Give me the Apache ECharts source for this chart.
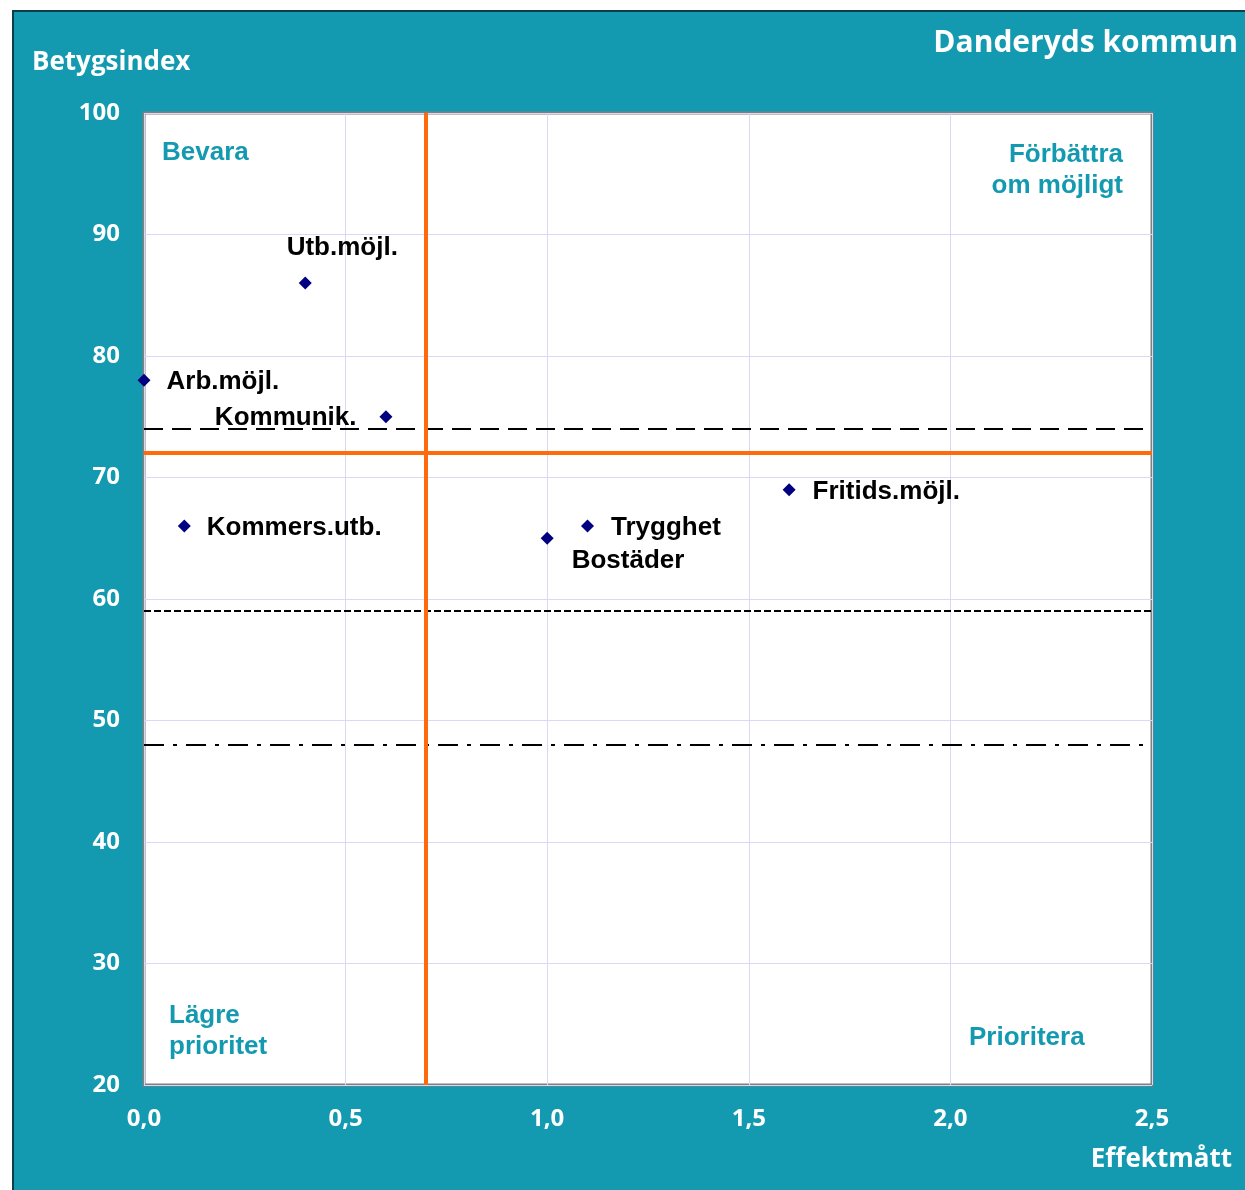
<!DOCTYPE html>
<html><head><meta charset="utf-8">
<script src="https://cdn.jsdelivr.net/npm/echarts@6/dist/echarts.min.js"></script>
<style>
html,body{margin:0;padding:0;background:#fff;}
#bg{position:absolute;left:12px;top:10px;width:1240px;height:1185px;background:#149AB0;border-top:2px solid #0d3f4a;border-left:2px solid #0d3f4a;}
#chart{position:absolute;left:0;top:0;width:1245px;height:1190px;}
</style></head>
<body>
<div id="bg"></div>
<div id="chart"></div>
<script>
// ---- data ----
const pointNames = ['Utb.möjl.', 'Arb.möjl.', 'Kommunik.', 'Kommers.utb.', 'Trygghet', 'Bostäder', 'Fritids.möjl.'];
const effektValues = [0.4, 0.0, 0.6, 0.1, 1.1, 1.0, 1.6];
const betygValues = [86, 78, 75, 66, 66, 65, 69];
const xTickValues = [0, 0.5, 1.0, 1.5, 2.0, 2.5];
const xTickLabels = ['0,0', '0,5', '1,0', '1,5', '2,0', '2,5'];
const yTickLabels = ['20', '30', '40', '50', '60', '70', '80', '90', '100'];
const effektDivider = 0.7;
const betygDivider = 72;
const refLongDash = 74;
const refShortDash = 59;
const refDashDot = 48;

// ---- label placement (style only) ----
const labelPlacement = {
  'Utb.möjl.': {position: 'top', offset: [37, -11]},
  'Arb.möjl.': {position: 'right', offset: [11, 2]},
  'Kommunik.': {position: 'left', offset: [-18, 1]},
  'Kommers.utb.': {position: 'right', offset: [11, 2]},
  'Trygghet': {position: 'right', offset: [12, 2]},
  'Bostäder': {position: 'right', offset: [13, 23]},
  'Fritids.möjl.': {position: 'right', offset: [12, 2]}
};

const labelFont = {color: '#000', opacity: 1, fontFamily: 'Liberation Sans, Arial, sans-serif', fontWeight: 'bold', fontSize: 26};
const quadFont = {fill: '#149AB0', fontFamily: 'Liberation Sans, Arial, sans-serif', fontWeight: 'bold', fontSize: 26};
const tickFont = {color: '#fff', fontFamily: 'Open Sans, Lato, sans-serif', fontWeight: 'bold', fontSize: 24};

const points = pointNames.map((n, i) => ({
  name: n,
  value: [effektValues[i], betygValues[i]],
  label: Object.assign({show: true, formatter: '{b}'}, labelPlacement[n], labelFont)
}));

const chart = echarts.init(document.getElementById('chart'), null, {renderer: 'canvas'});
chart.setOption({
  backgroundColor: 'transparent',
  animation: false,
  grid: {left: 144, right: 93, top: 113, bottom: 105, show: true, backgroundColor: '#fff', borderColor: '#808080', borderWidth: 3},
  xAxis: {
    type: 'value', min: 0, max: 2.5, interval: 0.5,
    axisLine: {show: false}, axisTick: {show: false},
    splitLine: {show: true, lineStyle: {color: '#D9D9F5', width: 1}},
    axisLabel: Object.assign({margin: 22, formatter: v => xTickLabels[xTickValues.findIndex(t => Math.abs(t - v) < 1e-6)] || ''}, tickFont)
  },
  yAxis: {
    type: 'value', min: 20, max: 100, interval: 10,
    axisLine: {show: false}, axisTick: {show: false},
    splitLine: {show: true, lineStyle: {color: '#D9D9F5', width: 1}},
    axisLabel: Object.assign({margin: 24, formatter: v => yTickLabels[Math.round((v - 20) / 10)] || ''}, tickFont)
  },
  graphic: [
    {type: 'text', left: 32, top: 50, style: {text: 'Betygsindex', fill: '#fff', font: 'bold 26px "Open Sans", Lato, sans-serif'}},
    {type: 'text', right: 7, top: 28, style: {text: 'Danderyds kommun', fill: '#fff', font: 'bold 30px "Open Sans", Lato, sans-serif'}},
    {type: 'text', right: 13, top: 1147, style: {text: 'Effektmått', fill: '#fff', font: 'bold 26px "Open Sans", Lato, sans-serif'}},
    {type: 'text', left: 162, top: 140, style: Object.assign({text: 'Bevara'}, quadFont)},
    {type: 'text', right: 122, top: 142, style: Object.assign({text: 'Förbättra'}, quadFont)},
    {type: 'text', right: 122, top: 173, style: Object.assign({text: 'om möjligt'}, quadFont)},
    {type: 'text', left: 169, top: 1000, style: Object.assign({text: 'Lägre\nprioritet', lineHeight: 31}, quadFont)},
    {type: 'text', left: 969, top: 1025, style: Object.assign({text: 'Prioritera'}, quadFont)}
  ],
  series: [
    {
      type: 'line', data: [], silent: true,
      markLine: {
        silent: true, symbol: 'none', label: {show: false},
        data: [
          {yAxis: refLongDash, lineStyle: {color: '#000', width: 2, type: [19, 9]}},
          {yAxis: refShortDash, lineStyle: {color: '#000', width: 2, type: [7, 3]}},
          {yAxis: refDashDot, lineStyle: {color: '#000', width: 2, type: [20, 9, 4, 9]}},
          {yAxis: betygDivider, lineStyle: {color: '#FF6A0D', width: 4, type: 'solid'}},
          {xAxis: effektDivider, lineStyle: {color: '#FF6A0D', width: 4, type: 'solid'}}
        ]
      }
    },
    {
      type: 'scatter', symbol: 'diamond', symbolSize: 13,
      itemStyle: {color: '#000080', opacity: 1},
      data: points, z: 5
    }
  ]
});
</script>
</body></html>
